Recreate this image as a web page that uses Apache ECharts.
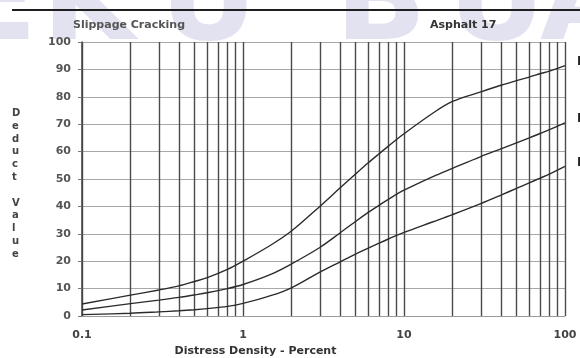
<!DOCTYPE html>
<html>
<head>
<meta charset="utf-8">
<script src="https://cdn.jsdelivr.net/npm/echarts@6/dist/echarts.min.js"></script>
<style>
html,body{margin:0;padding:0;background:#fff;}
#chart{width:580px;height:358px;}
</style>
</head>
<body>
<div id="chart"></div>
<script>
// Distress density (percent) sample points
const density = [0.1,0.2,0.3,0.4,0.5,0.6,0.8,1,1.5,2,3,4,5,6,7,8,10,15,20,30,40,50,60,70,80,100];
// Deduct values per severity
const high   = [4.4,7.6,9.5,11,12.6,14,17,20,26,31,40,46.7,51.8,55.9,59.2,62,66.5,73.9,78.3,81.8,84.2,85.9,87.2,88.4,89.4,91.4];
const medium = [2.2,4.5,5.8,6.8,7.7,8.5,10,11.5,15.3,19,25,30.3,34.5,37.8,40.4,42.6,45.9,50.8,53.9,58.2,61,63.2,65,66.6,68,70.5];
const low    = [0.5,1.0,1.5,1.9,2.3,2.7,3.5,4.6,7.5,10.3,16,19.7,22.6,24.8,26.6,28.1,30.5,34.3,37,41,44.1,46.6,48.6,50.3,51.8,54.6];
const severityNames = ['H','M','L'];
// axis ticks
const xTickLabels = [0.1, 1, 10, 100];
const minorGrid = [0.2,0.3,0.4,0.5,0.6,0.7,0.8,0.9,2,3,4,5,6,7,8,9,20,30,40,50,60,70,80,90];
const yMin = 0, yMax = 100, yStep = 10;

const chart = echarts.init(document.getElementById('chart'), null, {renderer:'canvas'});
const font = '"DejaVu Sans", Verdana, sans-serif';
const pair = arr => density.map((x,i)=>[x, arr[i]]);
const curveStyle = {color:'#2b2b2b', width:1.4};

const wm = {color:'#e2e2f0', font:'bold 120px "DejaVu Sans", sans-serif'};

const option = {
  animation:false,
  backgroundColor:'#fff',
  grid:{left:82, right:15, top:42, bottom:42, containLabel:false, outerBoundsMode:'none'},
  xAxis:{
    type:'log', logBase:10, min:0.1, max:100,
    axisLine:{show:true, lineStyle:{color:'#9a9a9a', width:1}},
    axisTick:{show:false},
    axisLabel:{color:'#444', fontFamily:font, fontWeight:'bold', fontSize:11, margin:14,
      formatter:v=>{ for(const t of xTickLabels){ if(Math.abs(v-t)<1e-9*t+1e-12) return String(t);} return String(v);} },
    splitLine:{show:true, lineStyle:{color:'#4a4a4a', width:1.4}},
    name:'Distress Density - Percent', nameLocation:'middle', nameGap:30,
    nameTextStyle:{color:'#333', fontFamily:font, fontWeight:'bold', fontSize:11, padding:[0,136,0,0]}
  },
  yAxis:{
    type:'value', min:yMin, max:yMax, interval:yStep,
    axisLine:{show:true, lineStyle:{color:'#444', width:1.5}},
    axisTick:{show:true, length:4, lineStyle:{color:'#777'}},
    axisLabel:{color:'#555', fontFamily:font, fontWeight:'bold', fontSize:11, margin:11},
    splitLine:{show:true, lineStyle:{color:'#a8a8a8', width:1}}
  },
  graphic:[
    {type:'text', z:-10, left:-45, top:-52, style:{text:'E', fill:wm.color, font:wm.font}},
    {type:'text', z:-10, left:42, top:-52, style:{text:'K', fill:wm.color, font:wm.font}},
    {type:'text', z:-10, left:160, top:-52, style:{text:'U', fill:wm.color, font:wm.font}},
    {type:'text', z:-10, left:335, top:-52, style:{text:'B', fill:wm.color, font:wm.font}},
    {type:'text', z:-10, left:448, top:-52, style:{text:'U', fill:wm.color, font:wm.font}},
    {type:'text', z:-10, left:540, top:-52, style:{text:'A', fill:wm.color, font:wm.font}},
    {type:'rect', shape:{x:12, y:9, width:570, height:2}, style:{fill:'#1e1e1e'}},
    {type:'text', left:73, top:20, style:{text:'Slippage Cracking', fill:'#555', font:'bold 11px '+font}},
    {type:'text', left:430, top:20, style:{text:'Asphalt 17', fill:'#333', font:'bold 11px '+font}},
    {type:'text', left:12, top:107, style:{text:'D\ne\nd\nu\nc\nt\n \nV\na\nl\nu\ne', fill:'#444', font:'bold 10px '+font, lineHeight:12.8, align:'center'}},
    {type:'text', left:577, top:56, style:{text:severityNames[0], fill:'#222', font:'bold 12px '+font}},
    {type:'text', left:577, top:113, style:{text:severityNames[1], fill:'#222', font:'bold 12px '+font}},
    {type:'text', left:577, top:157, style:{text:severityNames[2], fill:'#222', font:'bold 12px '+font}}
  ],
  series:[
    {type:'line', name:severityNames[0], data:pair(high), showSymbol:false, smooth:0.35, lineStyle:curveStyle, z:5},
    {type:'line', name:severityNames[1], data:pair(medium), showSymbol:false, smooth:0.35, lineStyle:curveStyle, z:5},
    {type:'line', name:severityNames[2], data:pair(low), showSymbol:false, smooth:0.35, lineStyle:curveStyle, z:5,
      markLine:{silent:true, symbol:'none', label:{show:false}, animation:false,
        lineStyle:{color:'#4a4a4a', width:1.4, type:'solid'},
        data:minorGrid.map(v=>({xAxis:v}))}}
  ]
};
chart.setOption(option);
</script>
</body>
</html>
